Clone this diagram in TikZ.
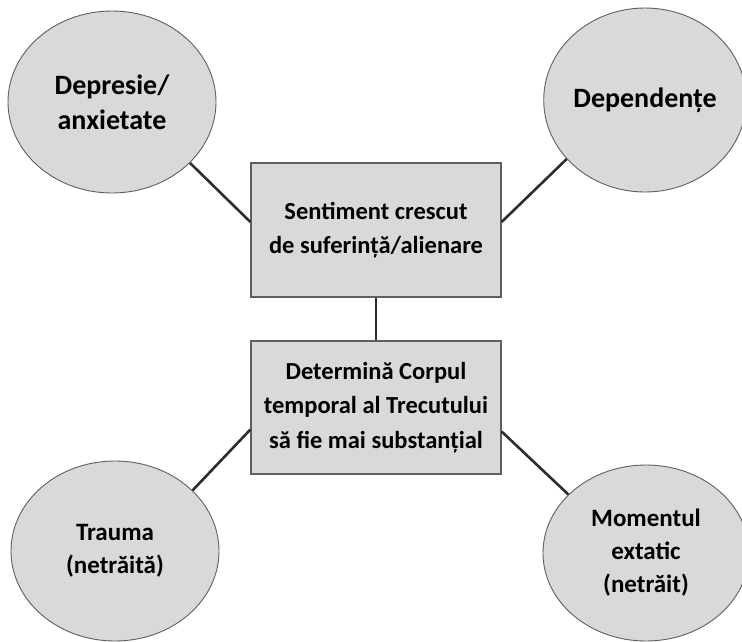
\documentclass[tikz,border=0pt]{standalone}
\usepackage{fontspec}
\setmainfont{Carlito}
\usepackage{xcolor}
\usetikzlibrary{shapes.geometric}

\definecolor{bubblefill}{RGB}{217,217,217}
\definecolor{bubbleline}{RGB}{95,95,95}
\definecolor{linkline}{RGB}{45,45,45}

\tikzset{
  bubble/.style={ellipse,draw=bubbleline,line width=0.9pt,fill=bubblefill,
    inner sep=0pt,align=center,font=\fontsize{25}{33}\selectfont\bfseries},
  bigbubble/.style={bubble,font=\fontsize{28}{35}\selectfont\bfseries},
  cause/.style={rectangle,draw=bubbleline,line width=1.2pt,fill=bubblefill,
    inner sep=0pt,minimum width=250,minimum height=134,align=center,
    font=\fontsize{24.5}{34.5}\selectfont\bfseries},
  link/.style={draw=linkline,line width=2.6pt}
}

\begin{document}
\begin{tikzpicture}[x=1pt,y=-1pt]
		\useasboundingbox (0,0) rectangle (742,641);
		\node[bigbubble,minimum width=208,minimum height=182] (Dep) at (112,102) {Depresie/\\anxietate};
		\node[bigbubble,minimum width=200,minimum height=184] (Dpd) at (645,100) {Dependențe};
		\node[cause] (Sent) at (376,230) {Sentiment crescut\\de suferință/alienare};
		\node[cause,minimum height=133] (Det) at (376,407.5) {Determină Corpul\\temporal al Trecutului\\să fie mai substanțial};
		\node[bubble,minimum width=208,minimum height=180] (Tra) at (115,551) {Trauma\\(netrăită)};
		\node[bubble,minimum width=206,minimum height=176] (Mom) at (646,553) {Momentul\\extatic\\(netrăit)};
		%
		\path[link]
		% upper links
		(Dep.-38) edge ([yshift=8pt]Sent.west)
		(Dpd.-143) edge ([yshift=8pt]Sent.east)
		% middle link
		(Sent.south) edge (Det.north)
		% lower links
		(Tra.38) edge ([yshift=-22pt]Det.west)
		(Mom.143) edge ([yshift=-24pt]Det.east);
\end{tikzpicture}
\end{document}
